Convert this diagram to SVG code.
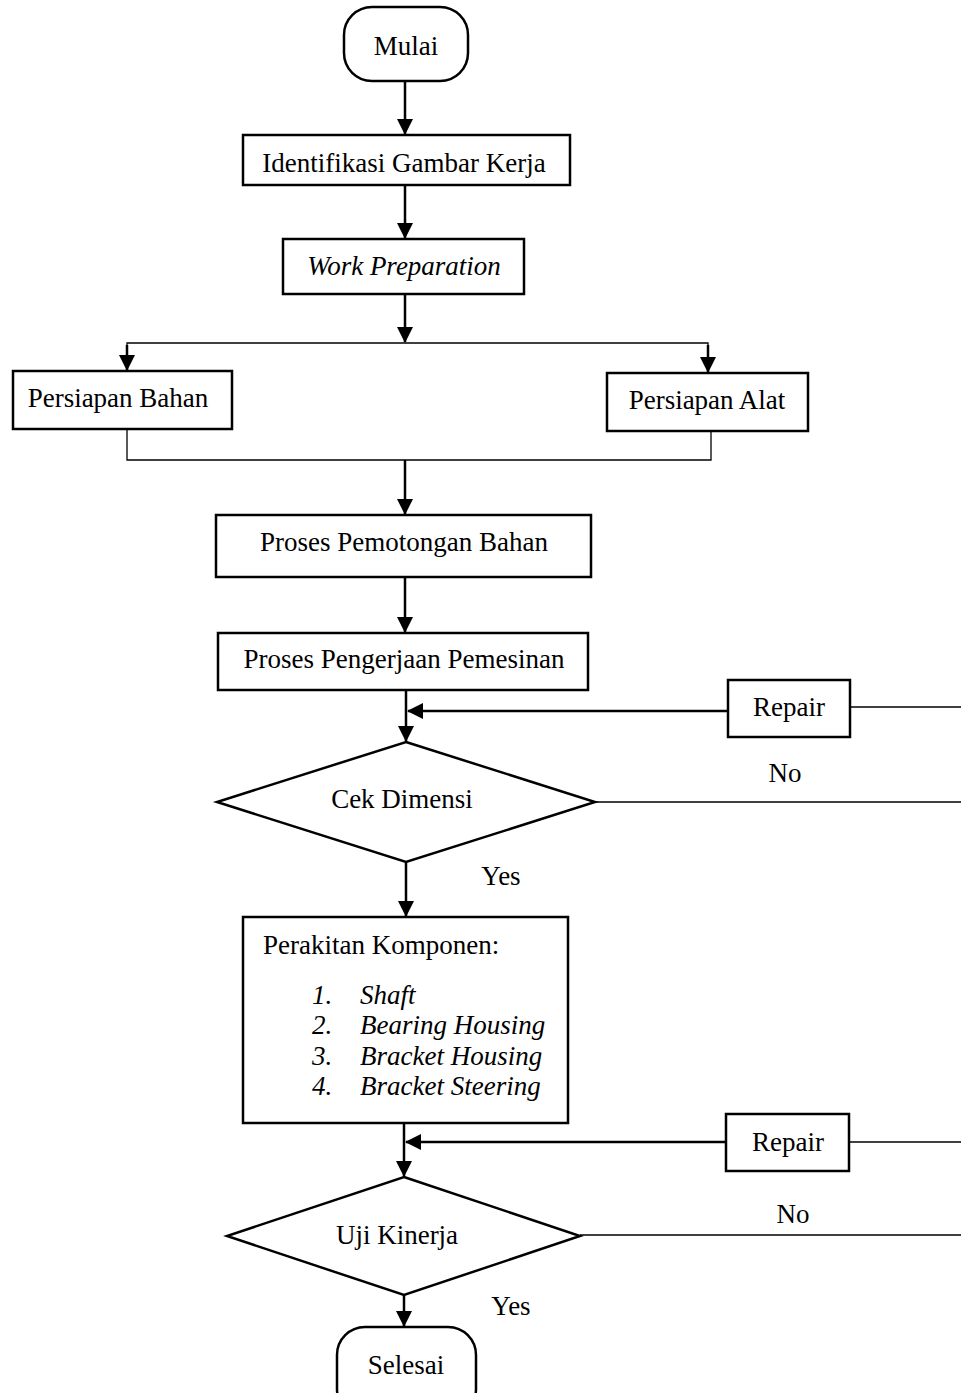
<svg xmlns="http://www.w3.org/2000/svg" width="961" height="1393" viewBox="0 0 961 1393">
<style>
  .box { fill: #fff; stroke: #000; stroke-width: 2.5; }
  .t { font-family: "Liberation Serif", "Times New Roman", serif; font-size: 27px; fill: #000; }
  .c { text-anchor: middle; }
  .i { font-style: italic; }
  .ln { fill: none; stroke: #000; stroke-width: 2.5; }
  .thin { fill: none; stroke: #000; stroke-width: 1.3; }
</style>
<defs>
  <marker id="arr" markerUnits="userSpaceOnUse" markerWidth="17" markerHeight="17" refX="15" refY="8" orient="auto">
    <path d="M0,0 L16,8 L0,16 z" fill="#000"/>
  </marker>
</defs>
<rect width="961" height="1393" fill="#fff"/>

<g id="connectors">
  <line class="ln" x1="405" y1="81" x2="405" y2="134" marker-end="url(#arr)"/>
  <line class="ln" x1="405" y1="185" x2="405" y2="238" marker-end="url(#arr)"/>
  <line class="ln" x1="405" y1="294" x2="405" y2="342" marker-end="url(#arr)"/>
  <polyline class="thin" points="127,370 127,343 708,343 708,372"/>
  <line class="ln" x1="127" y1="345" x2="127" y2="370" marker-end="url(#arr)"/>
  <line class="ln" x1="708" y1="345" x2="708" y2="372" marker-end="url(#arr)"/>
  <polyline class="thin" points="127,429 127,460 711,460 711,431"/>
  <line class="ln" x1="405" y1="460" x2="405" y2="514" marker-end="url(#arr)"/>
  <line class="ln" x1="405" y1="577" x2="405" y2="632" marker-end="url(#arr)"/>
  <line class="ln" x1="406" y1="690" x2="406" y2="741" marker-end="url(#arr)"/>
  <line class="ln" x1="727" y1="711" x2="408" y2="711" marker-end="url(#arr)"/>
  <line class="thin" x1="850" y1="707" x2="961" y2="707"/>
  <line class="thin" x1="595" y1="802" x2="961" y2="802"/>
  <line class="ln" x1="406" y1="862" x2="406" y2="916" marker-end="url(#arr)"/>
  <line class="ln" x1="404" y1="1123" x2="404" y2="1176" marker-end="url(#arr)"/>
  <line class="ln" x1="725" y1="1142" x2="406" y2="1142" marker-end="url(#arr)"/>
  <line class="thin" x1="849" y1="1142" x2="961" y2="1142"/>
  <line class="thin" x1="580" y1="1235" x2="961" y2="1235"/>
  <line class="ln" x1="404" y1="1295" x2="404" y2="1326" marker-end="url(#arr)"/>
</g>

<g id="mulai">
  <rect class="box" x="344" y="7" width="124" height="74" rx="28" ry="28"/>
  <text class="t c" x="406" y="55">Mulai</text>
</g>
<g id="identifikasi">
  <rect class="box" x="243" y="135" width="327" height="50"/>
  <text class="t c" x="404" y="172">Identifikasi Gambar Kerja</text>
</g>
<g id="work-preparation">
  <rect class="box" x="283" y="239" width="241" height="55"/>
  <text class="t c i" x="404" y="275">Work Preparation</text>
</g>
<g id="persiapan-bahan">
  <rect class="box" x="13" y="371" width="219" height="58"/>
  <text class="t c" x="118" y="407">Persiapan Bahan</text>
</g>
<g id="persiapan-alat">
  <rect class="box" x="607" y="373" width="201" height="58"/>
  <text class="t c" x="707" y="409">Persiapan Alat</text>
</g>
<g id="pemotongan">
  <rect class="box" x="216" y="515" width="375" height="62"/>
  <text class="t c" x="404" y="551">Proses Pemotongan Bahan</text>
</g>
<g id="pemesinan">
  <rect class="box" x="218" y="633" width="370" height="57"/>
  <text class="t c" x="404" y="668">Proses Pengerjaan Pemesinan</text>
</g>
<g id="repair-1">
  <rect class="box" x="728" y="680" width="122" height="57"/>
  <text class="t c" x="789" y="716">Repair</text>
</g>
<g id="cek-dimensi">
  <polygon class="box" points="406,742 595,802 406,862 217,802"/>
  <text class="t c" x="402" y="808">Cek Dimensi</text>
</g>
<text class="t c" x="785" y="782">No</text>
<text class="t c" x="501" y="885">Yes</text>
<g id="perakitan">
  <rect class="box" x="243" y="917" width="325" height="206"/>
  <text class="t" x="263" y="954">Perakitan Komponen:</text>
  <text class="t i" x="312" y="1004">1.</text>
  <text class="t i" x="360" y="1004">Shaft</text>
  <text class="t i" x="312" y="1034">2.</text>
  <text class="t i" x="360" y="1034">Bearing Housing</text>
  <text class="t i" x="312" y="1065">3.</text>
  <text class="t i" x="360" y="1065">Bracket Housing</text>
  <text class="t i" x="312" y="1095">4.</text>
  <text class="t i" x="360" y="1095">Bracket Steering</text>
</g>
<g id="repair-2">
  <rect class="box" x="726" y="1114" width="123" height="57"/>
  <text class="t c" x="788" y="1151">Repair</text>
</g>
<g id="uji-kinerja">
  <polygon class="box" points="404,1177 580,1236 404,1295 227,1236"/>
  <text class="t c" x="397" y="1244">Uji Kinerja</text>
</g>
<text class="t c" x="793" y="1223">No</text>
<text class="t c" x="511" y="1315">Yes</text>
<g id="selesai">
  <rect class="box" x="337" y="1327" width="139" height="90" rx="28" ry="28"/>
  <text class="t c" x="406" y="1374">Selesai</text>
</g>
</svg>
